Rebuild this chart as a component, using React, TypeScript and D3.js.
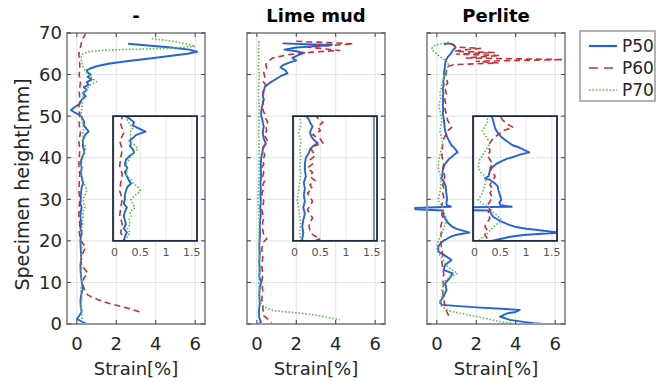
import React from 'react';
import * as d3 from 'd3';

// each point: [specimen height in mm, strain in %]
type Pt = [number, number];

const panelTitles = ['-', 'Lime mud', 'Perlite'];
const seriesNames = ['P50', 'P60', 'P70'];
const seriesColors = ['#2563d9', '#c62f36', '#66b653'];
const mainXTicks = [0, 2, 4, 6];
const mainYTicks = [0, 10, 20, 30, 40, 50, 60, 70];
const insetXTicks = [0, 0.5, 1, 1.5];
const insetXLabels = ['0', '0.5', '1', '1.5'];
const insetYTicks = [20, 30, 40, 50];

const noneP50: Pt[] = [
  [67.4, 2.6], [67.0, 3.6], [66.5, 4.8], [66.0, 5.7], [65.5, 6.1], [65.0, 5.6], [64.4, 4.6], [63.8, 3.6],
  [63.2, 2.5], [62.6, 1.6], [62.0, 1.0], [61.4, 0.65], [61.0, 0.5], [60.5, 0.55], [60.0, 0.7], [59.4, 0.55],
  [58.8, 0.75], [58.2, 0.5], [57.5, 0.6], [57.0, 0.35], [56.3, 0.5], [55.5, 0.3], [54.8, 0.45], [54.0, 0.25],
  [53.0, 0.15], [52.2, -0.1], [51.5, -0.3], [51.0, -0.15], [50.5, 0.05], [50.0, 0.22], [49.3, 0.3], [48.5, 0.38],
  [47.8, 0.35], [47.0, 0.48], [46.3, 0.6], [45.5, 0.42], [45.0, 0.38], [44.2, 0.3], [43.5, 0.32], [42.8, 0.3],
  [42.0, 0.36], [41.2, 0.38], [40.5, 0.3], [39.5, 0.22], [38.5, 0.2], [37.5, 0.25], [36.5, 0.2], [35.5, 0.24],
  [34.5, 0.28], [33.8, 0.32], [33.0, 0.25], [32.0, 0.22], [31.0, 0.2], [30.0, 0.2], [29.0, 0.18], [28.0, 0.24],
  [27.0, 0.2], [26.0, 0.18], [25.0, 0.2], [24.0, 0.22], [23.0, 0.18], [22.0, 0.24], [21.0, 0.2], [20.0, 0.18],
  [18, 0.2], [16, 0.22], [14, 0.18], [12, 0.2], [10, 0.25], [8.5, 0.3], [7, 0.22], [5.5, 0.18], [4, 0.2],
  [3, 0.25], [2, 0.12], [1.2, 0.0], [0.6, 0.25], [0, 0.5],
];
const noneP60: Pt[] = [
  [70, 0.45], [69, 0.35], [68, 0.25], [67, 0.2], [66, 0.15], [65, 0.1], [64, 0.12], [62, 0.15], [60, 0.12],
  [58, 0.18], [56, 0.12], [54, 0.15], [52, 0.1], [50, 0.15], [48, 0.12], [46, 0.18], [44, 0.1], [42, 0.15],
  [40, 0.12], [38, 0.1], [36, 0.15], [34, 0.12], [32, 0.1], [30, 0.15], [28, 0.12], [26, 0.1], [24, 0.15],
  [22, 0.12], [20, 0.2], [18.5, 0.45], [17, 0.3], [15, 0.2], [13.5, 0.35], [12.3, 0.55], [11, 0.35], [9.5, 0.3],
  [8, 0.4], [7, 0.55], [6.5, 0.75], [5.8, 1.1], [5.0, 1.6], [4.4, 2.1], [3.8, 2.6], [3.2, 3.0], [2.9, 3.2],
];
const noneP70: Pt[] = [
  [68.6, 3.8], [68.3, 4.4], [67.9, 5.0], [67.3, 5.6], [66.8, 6.0], [66.3, 4.5], [66.1, 3.0], [65.9, 1.6],
  [65.6, 0.7], [65.0, 0.3], [64.0, 0.2], [63.0, 0.25], [62.0, 0.3], [61.0, 0.4], [60.0, 0.6], [59.0, 0.8],
  [58.3, 1.0], [57.5, 0.7], [56.5, 0.5], [55.5, 0.35], [54, 0.3], [52, 0.25], [50, 0.2], [49, 0.25], [48, 0.3],
  [47, 0.35], [46, 0.3], [45, 0.32], [44, 0.28], [43, 0.4], [42, 0.45], [41, 0.35], [40, 0.3], [39, 0.25],
  [38, 0.2], [37, 0.25], [36, 0.22], [35, 0.3], [34, 0.35], [33, 0.45], [32, 0.5], [31, 0.4], [30, 0.32],
  [29, 0.35], [28, 0.4], [27, 0.3], [26, 0.32], [25, 0.28], [24, 0.3], [23, 0.25], [22, 0.3], [21, 0.25],
  [20, 0.22], [18, 0.25], [16, 0.2], [14, 0.25], [12, 0.2], [10, 0.25], [8, 0.2], [6, 0.25], [4, 0.2],
  [2, 0.25], [0.5, 0.3],
];

const limeP50: Pt[] = [
  [67.5, 1.3], [67.3, 2.5], [67.1, 3.8], [66.9, 3.3], [66.5, 2.0], [66.0, 1.4], [65.6, 2.0], [65.2, 2.4],
  [64.7, 2.1], [64.0, 1.8], [63.4, 2.0], [62.8, 1.6], [62.2, 1.3], [61.7, 1.2], [61.0, 1.45], [60.3, 1.55],
  [59.6, 1.2], [59.0, 1.0], [58.3, 0.75], [57.6, 0.55], [57.0, 0.4], [56.0, 0.35], [55.0, 0.3], [54.0, 0.35],
  [53.0, 0.3], [52.0, 0.25], [51.0, 0.22], [50.0, 0.22], [49.2, 0.28], [48.5, 0.3], [47.5, 0.35], [46.8, 0.32],
  [46.0, 0.3], [45.0, 0.33], [44.2, 0.38], [43.5, 0.45], [42.8, 0.36], [42.0, 0.3], [41.2, 0.28], [40.0, 0.22],
  [38.5, 0.2], [37.0, 0.2], [35.5, 0.22], [34.0, 0.18], [32.5, 0.2], [31.0, 0.18], [29.5, 0.2], [28.0, 0.17],
  [26.5, 0.2], [25.0, 0.17], [23.5, 0.15], [22.0, 0.17], [20.5, 0.15], [19, 0.12], [17, 0.15], [15, 0.12],
  [13, 0.15], [11.5, 0.12], [10, 0.22], [9, 0.15], [7, 0.12], [5, 0.15], [3, 0.1], [1.5, 0.12], [0.5, 0.2],
  [0, 0.1],
];
const limeP60: Pt[] = [
  [68.0, 2.0], [67.7, 3.5], [67.4, 4.9], [67.0, 3.8], [66.6, 2.6], [66.2, 3.4], [65.8, 4.2], [65.4, 2.8],
  [64.8, 1.6], [64.0, 0.8], [63.3, 0.6], [62.5, 0.45], [61.5, 0.5], [60.5, 0.35], [59.5, 0.4], [58.5, 0.3],
  [57.5, 0.45], [56.5, 0.35], [55.5, 0.3], [54.5, 0.4], [53.5, 0.3], [52.5, 0.35], [51.5, 0.3], [50.5, 0.4],
  [49.5, 0.45], [48.5, 0.55], [47.5, 0.45], [46.5, 0.5], [45.5, 0.35], [44.5, 0.5], [43.5, 0.55], [42.5, 0.3],
  [41.5, 0.35], [40.5, 0.4], [39.5, 0.3], [38.5, 0.35], [37.5, 0.25], [36.5, 0.35], [35.5, 0.3], [34.5, 0.4],
  [33.5, 0.3], [32.5, 0.35], [31.5, 0.25], [30.5, 0.3], [29.5, 0.35], [28.5, 0.3], [27.5, 0.25], [26.5, 0.3],
  [25.5, 0.35], [24.5, 0.3], [23.5, 0.28], [22.5, 0.3], [21.5, 0.35], [20.5, 0.5], [19.5, 0.3], [18, 0.25],
  [16, 0.3], [14, 0.25], [12, 0.3], [10, 0.25], [8, 0.3], [6, 0.25], [4, 0.3], [2, 0.35], [1, 0.6], [0.3, 0.75],
];
const limeP70: Pt[] = [
  [68, 0.1], [66, 0.08], [64, 0.1], [62, 0.08], [60, 0.12], [58, 0.1], [56, 0.08], [54, 0.1], [52, 0.12],
  [50, 0.1], [48, 0.12], [46, 0.08], [44, 0.12], [42, 0.1], [40, 0.12], [38, 0.1], [36, 0.12], [34, 0.1],
  [32, 0.08], [30, 0.05], [28, 0.08], [26, 0.1], [24, 0.12], [22, 0.1], [20, 0.12], [18, 0.1], [16, 0.12],
  [14, 0.1], [12, 0.12], [10, 0.1], [8, 0.12], [6, 0.15], [5, 0.2], [4.2, 0.35], [3.6, 0.6], [3.2, 0.9],
  [3.0, 1.3], [2.8, 1.8], [2.5, 2.4], [2.1, 3.0], [1.6, 3.6], [1.0, 4.2],
];

const perliteP50: Pt[] = [
  [67.3, 0.35], [67.5, 0.6], [67.2, 0.85], [66.5, 0.95], [65.8, 0.8], [65.0, 0.7], [64.2, 0.55], [63.4, 0.45],
  [62.5, 0.42], [61.5, 0.4], [60.5, 0.36], [59.5, 0.38], [58.5, 0.33], [57.5, 0.35], [56.5, 0.3], [55.5, 0.33],
  [54.5, 0.3], [53.5, 0.32], [52.5, 0.3], [51.5, 0.32], [50.5, 0.3], [50.0, 0.33], [49.0, 0.36], [48.0, 0.38],
  [47.0, 0.4], [46.0, 0.45], [45.0, 0.52], [44.0, 0.62], [43.0, 0.74], [42.4, 0.88], [41.9, 0.96], [41.3, 1.06],
  [40.8, 0.9], [40.3, 0.78], [39.7, 0.62], [39.1, 0.52], [38.5, 0.42], [37.9, 0.36], [37.0, 0.3], [36.0, 0.28],
  [35.5, 0.27], [35.0, 0.2], [34.7, 0.3], [34.0, 0.38], [33.1, 0.45], [32.3, 0.46], [31.5, 0.48], [30.7, 0.5],
  [29.9, 0.52], [29.2, 0.48], [28.6, 0.5], [28.2, 0.72], [27.9, -1.1], [27.6, -1.1], [27.3, 0.3], [26.6, 0.32],
  [25.8, 0.36], [25.2, 0.44], [24.6, 0.52], [24.0, 0.64], [23.4, 0.78], [22.9, 1.0], [22.6, 1.22], [22.2, 1.5],
  [22.0, 1.65], [21.7, 1.3], [21.4, 0.95], [21.0, 0.7], [20.5, 0.52], [20.0, 0.33], [19.5, 0.2], [18.6, 0.07],
  [17.4, 0.08], [16.2, 0.49], [15.4, 0.74], [14.2, 0.42], [13.0, 0.34], [12.2, 0.8], [11.0, 0.64], [9.8, 0.42],
  [8.2, 0.49], [6.6, 0.34], [5.4, 0.17], [4.6, 0.24], [4.0, 2.0], [3.4, 4.2], [2.9, 4.0], [2.6, 3.6],
  [2.2, 3.4], [1.8, 3.2], [1.0, 3.7], [0.5, 4.4], [0.2, 4.9], [0, 5.4],
];
const perliteP60: Pt[] = [
  [67.5, 0.7], [66.6, 1.0], [66.3, 2.2], [65.8, 1.1], [65.6, 0.9], [65.3, 2.9], [64.9, 1.0], [64.6, 3.2],
  [64.0, 1.5], [63.6, 6.4], [63.2, 2.0], [62.8, 3.1], [62.4, 0.9], [62, 0.55], [61, 0.5], [60, 0.45], [59, 0.5],
  [58, 0.55], [57, 0.4], [56, 0.45], [55, 0.5], [54, 0.4], [53, 0.45], [52, 0.4], [51, 0.45], [50, 0.5],
  [49, 0.55], [48, 0.65], [47.3, 0.75], [46.5, 0.55], [45.5, 0.45], [44.5, 0.35], [43.5, 0.3], [42.5, 0.28],
  [41.5, 0.3], [40.5, 0.25], [39.5, 0.3], [38.5, 0.35], [37.5, 0.3], [36.5, 0.35], [35.5, 0.4], [34.5, 0.35],
  [33.5, 0.3], [32.5, 0.35], [31.5, 0.3], [30.5, 0.35], [29.5, 0.3], [28.5, 0.25], [27.5, 0.3], [26.5, 0.25],
  [25.5, 0.3], [24.5, 0.25], [23.5, 0.2], [22.5, 0.25], [21.5, 0.2], [20.5, 0.25], [19.5, 0.2], [18, 0.25],
  [16.5, 0.3], [15, 0.25], [13.5, 0.3], [12, 0.35], [10.5, 0.3], [9, 0.35], [7.5, 0.3], [6, 0.35], [4.5, 0.4],
  [3, 0.5], [2, 0.6], [1.2, 0.7],
];
const perliteP70: Pt[] = [
  [67.8, 0.6], [67.4, 0.2], [67.0, -0.1], [66.3, -0.25], [65.5, -0.15], [64.7, 0.05], [63.9, 0.3], [63.0, 0.55],
  [62.0, 0.6], [61.2, 0.45], [60.3, 0.5], [59.5, 0.35], [58.5, 0.3], [57.5, 0.25], [56.5, 0.2], [55.5, 0.15],
  [54.5, 0.2], [53.5, 0.15], [52.5, 0.1], [51.5, 0.15], [50.5, 0.2], [49.5, 0.25], [48.5, 0.25], [47.5, 0.2],
  [46.5, 0.15], [45.5, 0.2], [44.5, 0.25], [43.5, 0.3], [42.5, 0.25], [41.5, 0.2], [40.5, 0.15], [39.5, 0.1],
  [38.5, 0.08], [37.5, 0.07], [36.5, 0.12], [35.5, 0.2], [34.5, 0.22], [33.5, 0.2], [32.5, 0.18], [31.5, 0.15],
  [30.5, 0.1], [29.8, 0.07], [29, 0.15], [28, 0.3], [27, 0.35], [26, 0.45], [25, 0.52], [24.2, 0.45],
  [23.5, 0.38], [22.5, 0.3], [21.5, 0.22], [20.5, 0.12], [19.5, 0.05], [18.5, 0.0], [17.5, 0.05], [16.5, 0.15],
  [15.5, 0.3], [14.5, 0.45], [13.5, 0.6], [12.8, 0.85], [12.2, 1.05], [11.5, 0.8], [10.8, 0.5], [10, 0.35],
  [9, 0.3], [8, 0.25], [7, 0.3], [6, 0.2], [5, 0.15], [4, 0.3], [3.2, 0.6], [2.6, 1.15], [2, 1.8], [1.4, 2.4],
  [1.0, 2.8], [0.5, 3.3], [0.2, 3.8],
];

const panelSeries: Pt[][][] = [
  [noneP50, noneP60, noneP70],
  [limeP50, limeP60, limeP70],
  [perliteP50, perliteP60, perliteP70],
];

const W = 666;
const H = 382;
const FONT = '"DejaVu Sans", "Liberation Sans", Arial, sans-serif';
const TEXT = '#262626';
const dashes = [null, '6,4', '1.6,1.8'];
const widths = [1.9, 1.6, 1.6];

const panelLeft0 = 67;
const panelStep = 180;
const panelW = 138;
const top = 33;
const bottom = 324;

const y = d3.scaleLinear().domain([0, 70]).range([bottom, top]);

function Panel({ idx }: { idx: number }) {
  const left = panelLeft0 + idx * panelStep;
  const right = left + panelW;
  const x = d3.scaleLinear().domain([-0.5, 6.5]).range([left, right]);
  const ix = d3.scaleLinear().domain([-0.03, 1.6]).range([left + 46, left + 130]);
  const iy = d3.scaleLinear().domain([20, 50]).range([y(20), y(50)]);
  const iL = ix.range()[0];
  const iR = ix.range()[1];
  const iT = iy(50);
  const iB = iy(20);
  const clipId = `inset-clip-${idx}`;
  const series = panelSeries[idx];

  const mainLine = d3.line<Pt>().x(d => x(d[1])).y(d => y(d[0]));
  const insetLine = d3.line<Pt>().x(d => ix(d[1])).y(d => iy(d[0]));

  return (
    <g>
      <defs>
        <clipPath id={clipId}>
          <rect x={iL} y={iT} width={iR - iL} height={iB - iT} />
        </clipPath>
      </defs>
      <rect x={left} y={top} width={panelW} height={bottom - top} fill="#fff" />
      {/* grid */}
      {mainXTicks.map(t => (
        <line key={'gx' + t} x1={x(t)} x2={x(t)} y1={top} y2={bottom} stroke="#e3e3e3" strokeWidth={1} />
      ))}
      {mainYTicks.map(t => (
        <line key={'gy' + t} x1={left} x2={right} y1={y(t)} y2={y(t)} stroke="#e3e3e3" strokeWidth={1} />
      ))}
      {/* curves */}
      {series.map((s, i) => (
        <path key={'m' + i} d={mainLine(s) || ''} fill="none" stroke={seriesColors[i]}
          strokeWidth={widths[i]} strokeDasharray={dashes[i] || undefined} strokeLinejoin="round" />
      ))}
      {/* inset */}
      <rect x={iL} y={iT} width={iR - iL} height={iB - iT} fill="#fff" />
      {insetXTicks.map(t => (
        <line key={'igx' + t} x1={ix(t)} x2={ix(t)} y1={iT} y2={iB} stroke="#e6e6e6" strokeWidth={1} />
      ))}
      {insetYTicks.map(t => (
        <line key={'igy' + t} x1={iL} x2={iR} y1={iy(t)} y2={iy(t)} stroke="#e6e6e6" strokeWidth={1} />
      ))}
      <g clipPath={`url(#${clipId})`}>
        {series.map((s, i) => (
          <path key={'i' + i} d={insetLine(s) || ''} fill="none" stroke={seriesColors[i]}
            strokeWidth={widths[i]} strokeDasharray={dashes[i] || undefined} strokeLinejoin="round" />
        ))}
      </g>
      {idx === 1 && (
        <line x1={iR - 3} x2={iR - 3} y1={iT} y2={iB} stroke="#5a6788" strokeWidth={1.5} />
      )}
      <rect x={iL} y={iT} width={iR - iL} height={iB - iT} fill="none" stroke="#1c2741" strokeWidth={1.8} />
      {insetXTicks.map((t, i) => (
        <text key={'ixl' + t} x={ix(t)} y={iB + 15} textAnchor="middle" fontSize={11}
          fontFamily={FONT} fill="#555">{insetXLabels[i]}</text>
      ))}
      {/* frame and ticks */}
      <rect x={left} y={top} width={panelW} height={bottom - top} fill="none" stroke="#9a9a9a" strokeWidth={2} />
      {mainXTicks.map(t => (
        <g key={'tx' + t}>
          <line x1={x(t)} x2={x(t)} y1={bottom} y2={bottom - 4} stroke="#404040" />
          <line x1={x(t)} x2={x(t)} y1={top} y2={top + 4} stroke="#404040" />
          <text x={x(t)} y={350} textAnchor="middle" fontSize={18} fontFamily={FONT} fill={TEXT}>{t}</text>
        </g>
      ))}
      {mainYTicks.map(t => (
        <g key={'ty' + t}>
          <line x1={left} x2={left + 4} y1={y(t)} y2={y(t)} stroke="#404040" />
          <line x1={right} x2={right - 4} y1={y(t)} y2={y(t)} stroke="#404040" />
          {idx === 0 && (
            <text x={left - 5} y={y(t)} dy="0.36em" textAnchor="end" fontSize={18} fontFamily={FONT} fill={TEXT}>{t}</text>
          )}
        </g>
      ))}
      <text x={(left + right) / 2} y={22} textAnchor="middle" fontSize={18} fontWeight="bold"
        fontFamily={FONT} fill="#000">{panelTitles[idx]}</text>
      <text x={(left + right) / 2} y={375} textAnchor="middle" fontSize={18} fontFamily={FONT} fill={TEXT}>Strain[%]</text>
    </g>
  );
}

function Legend() {
  const lx = 580;
  const ly = 31;
  const rows = [46, 68, 90];
  return (
    <g>
      <rect x={lx} y={ly} width={75} height={70} fill="#fff" stroke="#9a9a9a" strokeWidth={1.5} />
      {seriesNames.map((n, i) => (
        <g key={n}>
          <line x1={589} x2={617} y1={rows[i]} y2={rows[i]} stroke={seriesColors[i]} strokeWidth={i === 0 ? 2.2 : 1.7}
            strokeDasharray={i === 1 ? '9,6' : i === 2 ? '1.6,1.8' : undefined} />
          <text x={622} y={rows[i]} dy="0.36em" fontSize={17} fontFamily={FONT} fill={TEXT}>{n}</text>
        </g>
      ))}
    </g>
  );
}

export default function App() {
  return (
    <svg width={W} height={H} viewBox={`0 0 ${W} ${H}`}
      style={{ position: 'absolute', left: 0, top: 0, background: '#fff' }}>
      <rect width={W} height={H} fill="#fff" />
      {panelTitles.map((_, i) => <Panel key={i} idx={i} />)}
      <text transform={`translate(29,${(top + bottom) / 2 + 6}) rotate(-90)`} textAnchor="middle"
        fontSize={19} fontFamily={FONT} fill={TEXT}>Specimen height[mm]</text>
      <Legend />
    </svg>
  );
}
